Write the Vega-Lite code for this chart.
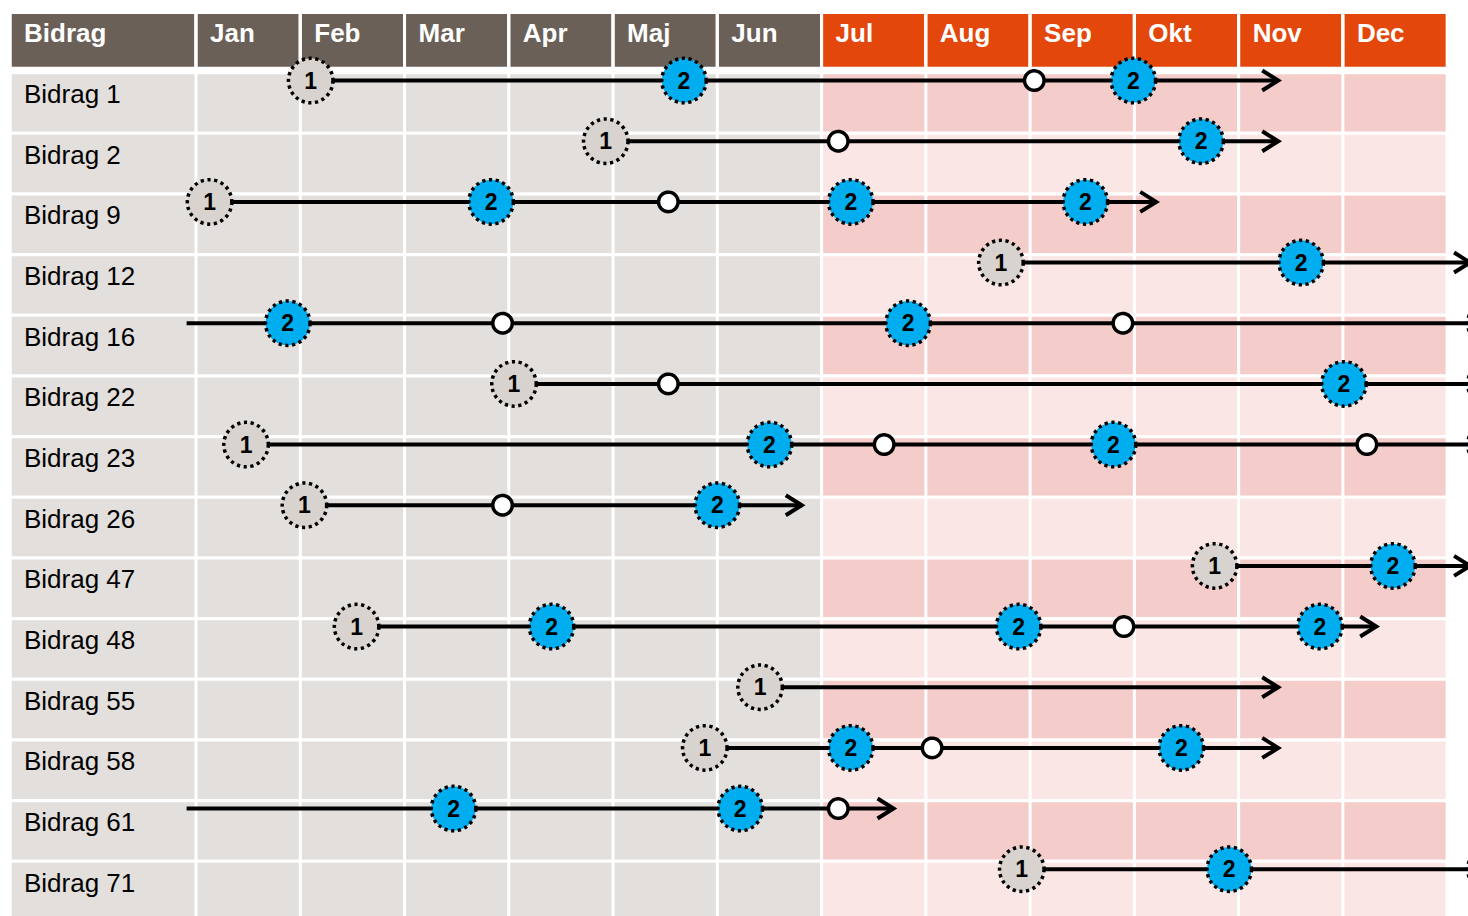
{
  "$schema": "https://vega.github.io/schema/vega-lite/v6.json",
  "width": 1468,
  "height": 910,
  "padding": {"top": 12, "left": 0, "right": 0, "bottom": 0},
  "autosize": {"type": "none"},
  "background": "white",
  "config": {"view": {"stroke": null}, "font": "Liberation Sans"},
  "datasets": {
    "rows": [
      {"name": "Bidrag 1", "shade": "dark"},
      {"name": "Bidrag 2", "shade": "light"},
      {"name": "Bidrag 9", "shade": "dark"},
      {"name": "Bidrag 12", "shade": "light"},
      {"name": "Bidrag 16", "shade": "dark"},
      {"name": "Bidrag 22", "shade": "light"},
      {"name": "Bidrag 23", "shade": "dark"},
      {"name": "Bidrag 26", "shade": "light"},
      {"name": "Bidrag 47", "shade": "dark"},
      {"name": "Bidrag 48", "shade": "light"},
      {"name": "Bidrag 55", "shade": "dark"},
      {"name": "Bidrag 58", "shade": "light"},
      {"name": "Bidrag 61", "shade": "dark"},
      {"name": "Bidrag 71", "shade": "light"}
    ],
    "months": [
      {"month": "Bidrag", "m0": -1.784, "m1": 0, "half": "H1"},
      {"month": "Jan", "m0": 0, "m1": 1, "half": "H1"},
      {"month": "Feb", "m0": 1, "m1": 2, "half": "H1"},
      {"month": "Mar", "m0": 2, "m1": 3, "half": "H1"},
      {"month": "Apr", "m0": 3, "m1": 4, "half": "H1"},
      {"month": "Maj", "m0": 4, "m1": 5, "half": "H1"},
      {"month": "Jun", "m0": 5, "m1": 6, "half": "H1"},
      {"month": "Jul", "m0": 6, "m1": 7, "half": "H2"},
      {"month": "Aug", "m0": 7, "m1": 8, "half": "H2"},
      {"month": "Sep", "m0": 8, "m1": 9, "half": "H2"},
      {"month": "Okt", "m0": 9, "m1": 10, "half": "H2"},
      {"month": "Nov", "m0": 10, "m1": 11, "half": "H2"},
      {"month": "Dec", "m0": 11, "m1": 12, "half": "H2"}
    ],
    "lines": [
      {"name": "Bidrag 1", "start": 1.10, "end": 10.38, "arrow": true},
      {"name": "Bidrag 2", "start": 3.93, "end": 10.38, "arrow": true},
      {"name": "Bidrag 9", "start": 0.13, "end": 9.21, "arrow": true},
      {"name": "Bidrag 12", "start": 7.72, "end": 12.22, "arrow": true},
      {"name": "Bidrag 16", "start": -0.09, "end": 12.6, "arrow": false},
      {"name": "Bidrag 22", "start": 3.05, "end": 12.6, "arrow": false},
      {"name": "Bidrag 23", "start": 0.48, "end": 12.6, "arrow": false},
      {"name": "Bidrag 26", "start": 1.04, "end": 5.81, "arrow": true},
      {"name": "Bidrag 47", "start": 9.77, "end": 12.22, "arrow": true},
      {"name": "Bidrag 48", "start": 1.54, "end": 11.32, "arrow": true},
      {"name": "Bidrag 55", "start": 5.41, "end": 10.38, "arrow": true},
      {"name": "Bidrag 58", "start": 4.88, "end": 10.38, "arrow": true},
      {"name": "Bidrag 61", "start": -0.09, "end": 6.69, "arrow": true},
      {"name": "Bidrag 71", "start": 7.92, "end": 12.6, "arrow": false}
    ],
    "events": [
      {"name": "Bidrag 1", "t": 1.10, "kind": "1"},
      {"name": "Bidrag 1", "t": 4.68, "kind": "2"},
      {"name": "Bidrag 1", "t": 8.04, "kind": "o"},
      {"name": "Bidrag 1", "t": 8.99, "kind": "2"},
      {"name": "Bidrag 2", "t": 3.93, "kind": "1"},
      {"name": "Bidrag 2", "t": 6.16, "kind": "o"},
      {"name": "Bidrag 2", "t": 9.64, "kind": "2"},
      {"name": "Bidrag 9", "t": 0.13, "kind": "1"},
      {"name": "Bidrag 9", "t": 2.83, "kind": "2"},
      {"name": "Bidrag 9", "t": 4.53, "kind": "o"},
      {"name": "Bidrag 9", "t": 6.28, "kind": "2"},
      {"name": "Bidrag 9", "t": 8.53, "kind": "2"},
      {"name": "Bidrag 12", "t": 7.72, "kind": "1"},
      {"name": "Bidrag 12", "t": 10.60, "kind": "2"},
      {"name": "Bidrag 16", "t": 0.88, "kind": "2"},
      {"name": "Bidrag 16", "t": 2.94, "kind": "o"},
      {"name": "Bidrag 16", "t": 6.83, "kind": "2"},
      {"name": "Bidrag 16", "t": 8.89, "kind": "o"},
      {"name": "Bidrag 16", "t": 12.41, "kind": "2"},
      {"name": "Bidrag 22", "t": 3.05, "kind": "1"},
      {"name": "Bidrag 22", "t": 4.53, "kind": "o"},
      {"name": "Bidrag 22", "t": 11.01, "kind": "2"},
      {"name": "Bidrag 22", "t": 12.41, "kind": "2"},
      {"name": "Bidrag 23", "t": 0.48, "kind": "1"},
      {"name": "Bidrag 23", "t": 5.50, "kind": "2"},
      {"name": "Bidrag 23", "t": 6.60, "kind": "o"},
      {"name": "Bidrag 23", "t": 8.80, "kind": "2"},
      {"name": "Bidrag 23", "t": 11.23, "kind": "o"},
      {"name": "Bidrag 23", "t": 12.41, "kind": "2"},
      {"name": "Bidrag 26", "t": 1.04, "kind": "1"},
      {"name": "Bidrag 26", "t": 2.94, "kind": "o"},
      {"name": "Bidrag 26", "t": 5.00, "kind": "2"},
      {"name": "Bidrag 47", "t": 9.77, "kind": "1"},
      {"name": "Bidrag 47", "t": 11.48, "kind": "2"},
      {"name": "Bidrag 48", "t": 1.54, "kind": "1"},
      {"name": "Bidrag 48", "t": 3.41, "kind": "2"},
      {"name": "Bidrag 48", "t": 7.89, "kind": "2"},
      {"name": "Bidrag 48", "t": 8.90, "kind": "o"},
      {"name": "Bidrag 48", "t": 10.78, "kind": "2"},
      {"name": "Bidrag 55", "t": 5.41, "kind": "1"},
      {"name": "Bidrag 58", "t": 4.88, "kind": "1"},
      {"name": "Bidrag 58", "t": 6.28, "kind": "2"},
      {"name": "Bidrag 58", "t": 7.06, "kind": "o"},
      {"name": "Bidrag 58", "t": 9.45, "kind": "2"},
      {"name": "Bidrag 61", "t": 2.47, "kind": "2"},
      {"name": "Bidrag 61", "t": 5.22, "kind": "2"},
      {"name": "Bidrag 61", "t": 6.16, "kind": "o"},
      {"name": "Bidrag 71", "t": 7.92, "kind": "1"},
      {"name": "Bidrag 71", "t": 9.91, "kind": "2"},
      {"name": "Bidrag 71", "t": 12.41, "kind": "2"}
    ]
  },
  "layer": [
    {
      "data": {"name": "rows"},
      "mark": {"type": "rect", "fill": "#e2dfdc", "stroke": "white", "strokeWidth": 3},
      "encoding": {
        "x": {"datum": -1.784, "type": "quantitative", "scale": {"domain": [-1.88, 12.2], "nice": false, "zero": false}, "axis": null},
        "x2": {"datum": 6},
        "y": {"field": "name", "type": "nominal", "sort": null, "scale": {"domain": ["Bidrag", "Bidrag 1", "Bidrag 2", "Bidrag 9", "Bidrag 12", "Bidrag 16", "Bidrag 22", "Bidrag 23", "Bidrag 26", "Bidrag 47", "Bidrag 48", "Bidrag 55", "Bidrag 58", "Bidrag 61", "Bidrag 71"], "paddingInner": 0, "paddingOuter": 0}, "axis": null}
      }
    },
    {
      "data": {"name": "rows"},
      "mark": {"type": "rect", "stroke": "white", "strokeWidth": 3},
      "encoding": {
        "x": {"datum": 6, "type": "quantitative"},
        "x2": {"datum": 12},
        "y": {"field": "name", "type": "nominal", "sort": null},
        "fill": {"condition": {"test": "datum.shade === 'dark'", "value": "#f4cdcb"}, "value": "#fae6e5"}
      }
    },
    {
      "data": {"name": "months"},
      "mark": {"type": "rect", "stroke": "white", "strokeWidth": 3, "height": {"band": 0.92}, "yOffset": -2},
      "encoding": {
        "x": {"field": "m0", "type": "quantitative"},
        "x2": {"field": "m1"},
        "y": {"datum": "Bidrag", "type": "nominal"},
        "fill": {"condition": {"test": "datum.half === 'H2'", "value": "#e4470b"}, "value": "#6b6058"}
      }
    },
    {
      "data": {"name": "months"},
      "mark": {"type": "rule", "stroke": "white", "strokeWidth": 3},
      "encoding": {
        "x": {"field": "m0", "type": "quantitative"}
      }
    },
    {
      "data": {"name": "lines"},
      "mark": {"type": "rule", "stroke": "black", "strokeWidth": 4, "clip": true},
      "encoding": {
        "x": {"field": "start", "type": "quantitative"},
        "x2": {"field": "end"},
        "y": {"field": "name", "type": "nominal", "sort": null, "bandPosition": 0.13}
      }
    },
    {
      "data": {"name": "lines"},
      "transform": [{"filter": "datum.arrow"}],
      "mark": {"type": "point", "shape": "M-1.6,-1L0,0L-1.6,1", "filled": false, "stroke": "black", "strokeWidth": 4, "size": 400, "opacity": 1, "clip": true},
      "encoding": {
        "x": {"field": "end", "type": "quantitative"},
        "y": {"field": "name", "type": "nominal", "sort": null, "bandPosition": 0.13}
      }
    },
    {
      "data": {"name": "events"},
      "mark": {"type": "point", "shape": "circle", "filled": true, "stroke": "black", "opacity": 1, "clip": true},
      "encoding": {
        "x": {"field": "t", "type": "quantitative"},
        "y": {"field": "name", "type": "nominal", "sort": null, "bandPosition": 0.13},
        "fill": {"condition": [{"test": "datum.kind === '1'", "value": "#d8d3ce"}, {"test": "datum.kind === '2'", "value": "#00aeef"}], "value": "white"},
        "size": {"condition": {"test": "datum.kind === 'o'", "value": 380}, "value": 1980},
        "strokeWidth": {"condition": {"test": "datum.kind === 'o'", "value": 3.5}, "value": 3.5},
        "strokeDash": {"condition": {"test": "datum.kind === 'o'", "value": [1, 0]}, "value": [3.2, 3.6]}
      }
    },
    {
      "data": {"name": "events"},
      "transform": [{"filter": "datum.kind !== 'o' && datum.t < 12.1"}],
      "mark": {"type": "text", "fontSize": 23, "fontWeight": "bold", "color": "black", "align": "center", "baseline": "middle", "dy": 1, "clip": true},
      "encoding": {
        "x": {"field": "t", "type": "quantitative"},
        "y": {"field": "name", "type": "nominal", "sort": null, "bandPosition": 0.13},
        "text": {"field": "kind"}
      }
    },
    {
      "data": {"name": "rows"},
      "mark": {"type": "text", "fontSize": 26, "color": "black", "align": "left", "baseline": "middle"},
      "encoding": {
        "x": {"datum": -1.65, "type": "quantitative"},
        "y": {"field": "name", "type": "nominal", "sort": null, "bandPosition": 0.37},
        "text": {"field": "name"}
      }
    },
    {
      "data": {"name": "months"},
      "mark": {"type": "text", "fontSize": 26, "fontWeight": "bold", "color": "white", "align": "left", "baseline": "middle", "dx": 14},
      "encoding": {
        "x": {"field": "m0", "type": "quantitative"},
        "y": {"datum": "Bidrag", "type": "nominal", "bandPosition": 0.37},
        "text": {"field": "month"}
      }
    }
  ]
}
